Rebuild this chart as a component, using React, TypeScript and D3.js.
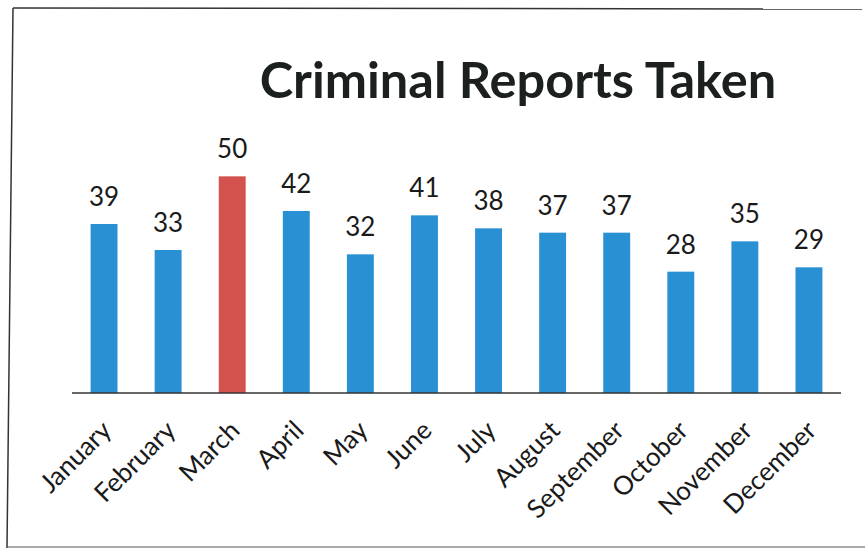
import React from "react";
import * as d3 from "d3";

const months = ["January","February","March","April","May","June","July","August","September","October","November","December"];
const reports = [39,33,50,42,32,41,38,37,37,28,35,29];
const highlighted = ["March"];
const titleText = "Criminal Reports Taken";

const W = 865, H = 550;
const FONT = "Lato, 'Open Sans', sans-serif";

export default function App() {
  const x = d3.scaleBand<string>().domain(months).range([72, 841]).paddingInner(0.58).paddingOuter(0.29);
  const y = d3.scaleLinear().domain([0, 60]).range([393, 133]);
  return (
    <div style={{ position: "absolute", left: 0, top: 0 }}>
      <svg width={W} height={H} style={{ display: "block", background: "#fff" }}>
        <line x1={13} y1={8} x2={862} y2={9} stroke="#333" strokeWidth={1.5} />
        <line x1={13} y1={8} x2={7} y2={548} stroke="#333" strokeWidth={1.5} />
        <line x1={7} y1={547} x2={865} y2={547} stroke="#555" strokeWidth={1} />
        <text x={518} y={98} textAnchor="middle" fontFamily={FONT} fontWeight={700} fontSize={50.5} fill="#1b1f1d">{titleText}</text>
        {months.map((m, i) => {
          const v = reports[i];
          const bx = x(m)!;
          const cx = bx + x.bandwidth() / 2;
          return (
            <g key={m}>
              <rect x={bx} y={y(v)} width={x.bandwidth()} height={y(0) - y(v)} fill={highlighted.includes(m) ? "#D4524E" : "#2A90D4"} />
              <text x={cx} y={y(v) - 18} textAnchor="middle" fontFamily={FONT} fontSize={26} fill="#1a1a1a">{v}</text>
              <text transform={`translate(${cx + 9},${432}) rotate(-45)`} textAnchor="end" fontFamily={FONT} fontSize={26} fill="#1a1a1a">{m}</text>
            </g>
          );
        })}
        <line x1={72} y1={y(0)} x2={841} y2={y(0)} stroke="#333" strokeWidth={1.5} />
      </svg>
    </div>
  );
}
